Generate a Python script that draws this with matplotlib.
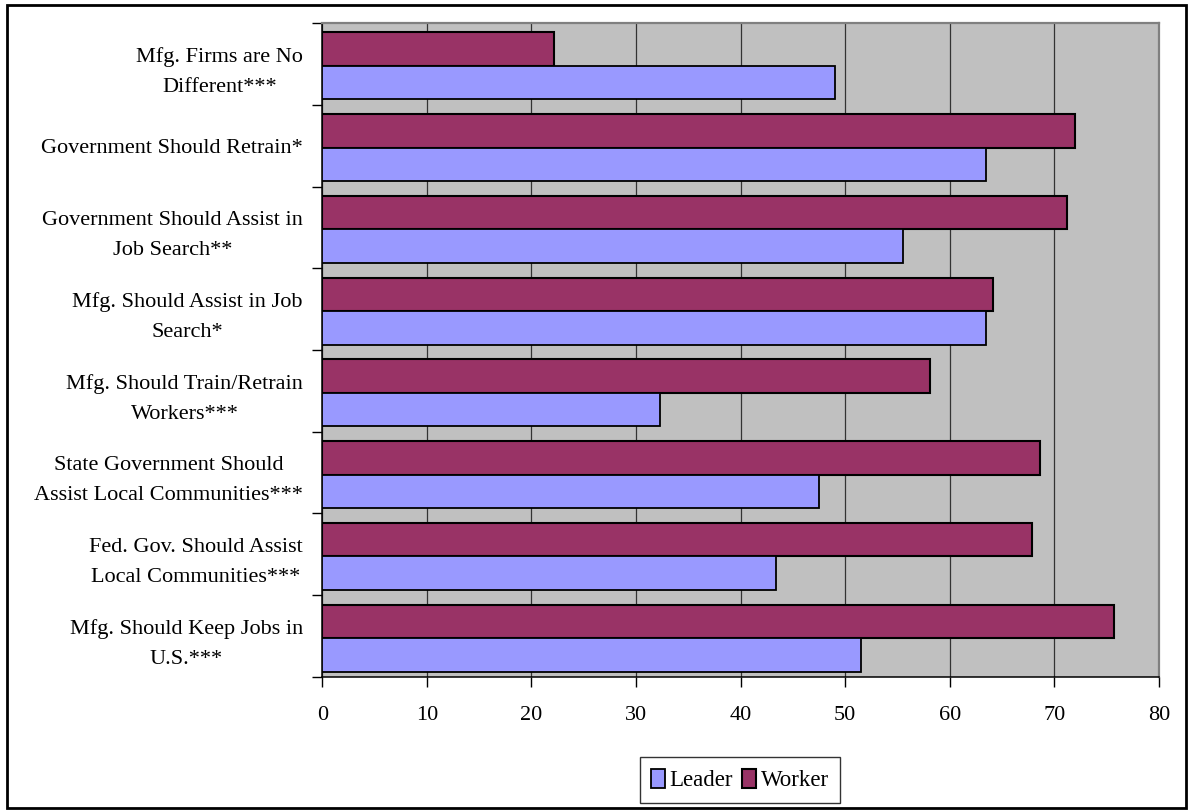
import matplotlib
matplotlib.use("Agg")
import matplotlib.pyplot as plt
from matplotlib.patches import Rectangle
import numpy as np

plt.rcParams['font.family'] = ['Liberation Serif', 'DejaVu Serif']

categories = [
    "Mfg. Firms are No\nDifferent***",
    "Government Should Retrain*",
    "Government Should Assist in\nJob Search**",
    "Mfg. Should Assist in Job\nSearch*",
    "Mfg. Should Train/Retrain\nWorkers***",
    "State Government Should\nAssist Local Communities***",
    "Fed. Gov. Should Assist\nLocal Communities***",
    "Mfg. Should Keep Jobs in\nU.S.***",
]
leader = [49.0, 63.5, 55.5, 63.5, 32.3, 47.5, 43.4, 51.5]
worker = [22.2, 72.0, 71.2, 64.1, 58.1, 68.6, 67.9, 75.7]
x_ticks = [0, 10, 20, 30, 40, 50, 60, 70, 80]

leader_color = '#9999FF'
worker_color = '#993366'

fig = plt.figure(figsize=(11.88, 8.10), dpi=100)
ax = fig.add_axes([0.2713, 0.1642, 0.9756 - 0.2713, 0.9716 - 0.1642])

pos = np.arange(len(categories))
h = 0.41
shift = 0.025
ax.barh(pos - h / 2 + shift, worker, height=h, color=worker_color,
        edgecolor='black', linewidth=1.5, label='Worker', zorder=3)
ax.barh(pos + h / 2 + shift, leader, height=h, color=leader_color,
        edgecolor='black', linewidth=1.3, label='Leader', zorder=3)

ax.set_xlim(0, 80)
ax.set_ylim(len(categories) - 0.5, -0.5)
ax.set_facecolor('#C0C0C0')

ax.set_xticks(x_ticks)
ax.set_xticklabels([str(t) for t in x_ticks], fontsize=16)
ax.tick_params(axis='x', direction='out', length=7, width=1, pad=14)

# group separators as major ticks, category names as minor ticks
ax.set_yticks(np.arange(len(categories) + 1) - 0.5)
ax.set_yticklabels([])
ax.set_yticks(pos, minor=True)
ax.set_yticklabels(categories, minor=True, fontsize=16,
                   multialignment='center', linespacing=1.8)
ax.tick_params(axis='y', which='major', direction='out', length=7, width=1)
ax.tick_params(axis='y', which='minor', length=0, pad=14)

ax.grid(axis='x', color='#333333', linewidth=0.9, zorder=0)
ax.set_axisbelow(True)

for side in ('left', 'bottom'):
    ax.spines[side].set_color('black')
    ax.spines[side].set_linewidth(1.1)
for side in ('top', 'right'):
    ax.spines[side].set_color('#808080')
    ax.spines[side].set_linewidth(1.6)

handles, labels = ax.get_legend_handles_labels()
leg = fig.legend(handles[::-1], labels[::-1], loc='center',
                 bbox_to_anchor=(740 / 1188, 1 - 780 / 810), ncol=2,
                 fontsize=16.5, frameon=True, fancybox=False,
                 handlelength=0.6, handleheight=0.9, handletextpad=0.2,
                 columnspacing=0.4, borderpad=0.5, borderaxespad=0)
leg.get_frame().set_edgecolor('black')
leg.get_frame().set_linewidth(1.0)

# outer chart border
fig.patches.append(Rectangle((7 / 1188, 2 / 810), 1179 / 1188, 803 / 810,
                             transform=fig.transFigure, fill=False,
                             edgecolor='black', linewidth=2.0))

fig.savefig('out.png', dpi=100)
